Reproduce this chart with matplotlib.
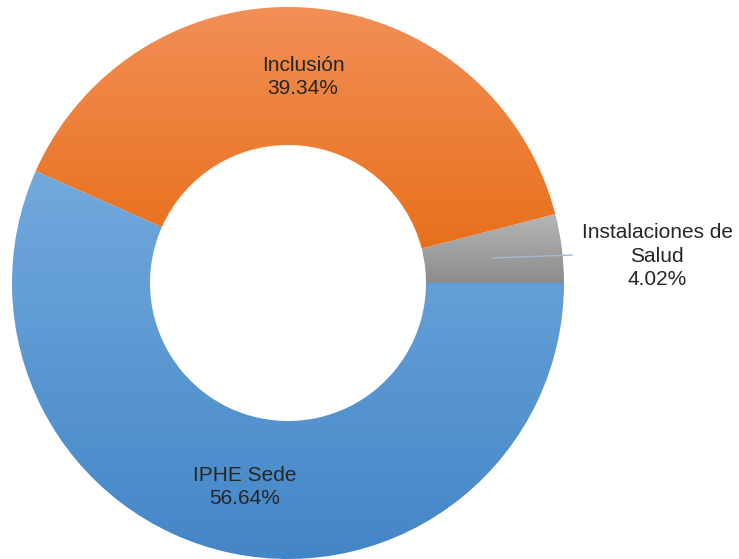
import numpy as np
import matplotlib
matplotlib.use("Agg")
from matplotlib import pyplot as plt
from matplotlib.colors import LinearSegmentedColormap

plt.rcParams['font.family'] = ['Liberation Sans', 'DejaVu Sans']

categories = ['Instalaciones de\nSalud', 'Inclusión', 'IPHE Sede']
shares = [4.02, 39.34, 56.64]
# (top colour, bottom colour) of each slice's fill
shades = [('#b5b5b5', '#8c8c8c'),
          ('#f28f56', '#e8701b'),
          ('#72a9dd', '#4386c7')]
label_pos = [(369, 27), (15, 206), (-43, -204)]

fig = plt.figure(figsize=(7.39, 5.59), dpi=100)
ax = fig.add_axes([0, 0, 1, 1])

wedges, _ = ax.pie(shares, startangle=0, counterclock=True, radius=276,
                   wedgeprops=dict(width=138, linewidth=0))

for w, (top, bottom) in zip(wedges, shades):
    w.set_facecolor('none')
    bb = w.get_path().get_extents(w.get_patch_transform())
    cmap = LinearSegmentedColormap.from_list('g', [bottom, top])
    grad = np.linspace(0, 1, 256).reshape(-1, 1)
    im = ax.imshow(grad, cmap=cmap, origin='lower', aspect='auto',
                   extent=[bb.x0, bb.x1, bb.y0, bb.y1], zorder=1)
    im.set_clip_path(w)

# leader line for the small slice
ax.plot([205, 284], [25, 28], color='#a9b9cc', lw=1, zorder=3)

for (x, y), name, pct in zip(label_pos, categories, shares):
    ax.text(x, y, f'{name}\n{pct:.2f}%', ha='center', va='center',
            fontsize=15, color='#262626', linespacing=1.3, zorder=4)

ax.set_xlim(-288, 451)
ax.set_ylim(-276, 283)
ax.set_aspect('equal')
ax.axis('off')

plt.savefig('out.png', dpi=100)
